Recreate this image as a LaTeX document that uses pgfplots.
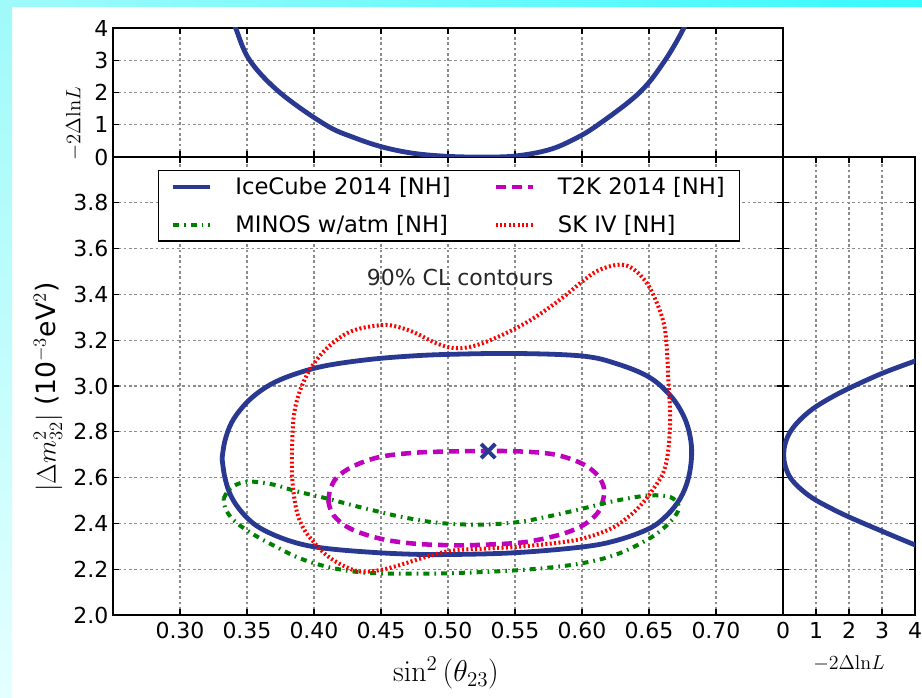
\RequirePackage{fix-cm}
\documentclass[border=0pt]{standalone}
\usepackage[no-math]{fontspec}
\setmainfont{DejaVu Sans}
\usepackage{pgfplots}
\pgfplotsset{compat=1.18}

\definecolor{icblue}{RGB}{41,56,145}
\definecolor{tmag}{RGB}{191,0,191}
\definecolor{mgreen}{RGB}{0,128,0}
\definecolor{skred}{RGB}{255,0,0}
\definecolor{cyA}{RGB}{160,250,250}
\definecolor{cyB}{RGB}{55,250,255}
\definecolor{cyC}{RGB}{228,255,255}

\pgfplotsset{
  myax/.style={
    scale only axis,
    axis line style={line width=1.6pt},
    tick pos=both, tick align=inside,
    major tick length=4.5pt,
    tick style={line width=0.9pt, black},
    grid=major,
    major grid style={gray!90, line width=0.8pt, dash pattern=on 2pt off 2pt},
    ticklabel style={font=\fontsize{16.5}{19}\selectfont},
    /pgf/number format/assume math mode=true,
  }
}

\begin{document}
\begin{tikzpicture}
% background frame
\fill[white] (0pt,0pt) rectangle (691.5pt,522.75pt);
\shade[left color=cyA, right color=cyB] (0pt,517.5pt) rectangle (691.5pt,522.75pt);
\shade[top color=cyA, bottom color=cyC] (0pt,0pt) rectangle (9pt,517.5pt);

% ---------------- main panel ----------------
\begin{axis}[myax,
  at={(84.75pt,61.5pt)}, anchor=south west,
  width=502.5pt, height=343.5pt,
  xmin=0.25, xmax=0.75, ymin=2.0, ymax=4.0,
  xtick={0.30,0.35,0.40,0.45,0.50,0.55,0.60,0.65,0.70},
  ytick={2.0,2.2,2.4,2.6,2.8,3.0,3.2,3.4,3.6,3.8},
  xticklabel style={/tikz/yshift=-2pt, /pgf/number format/fixed, /pgf/number format/fixed zerofill, /pgf/number format/precision=2},
  yticklabel style={/pgf/number format/fixed, /pgf/number format/fixed zerofill, /pgf/number format/precision=1},
  legend columns=2,
  legend cell align=left,
  legend image code/.code={\draw[#1] (0pt,0pt) -- (28pt,0pt); \path (43pt,0pt);},
  legend style={at={(0.067,0.9716)}, anchor=north west, draw=black, line width=1pt,
    font=\fontsize{17}{20}\selectfont, row sep=10pt, inner xsep=9pt, inner ysep=3pt,
    /tikz/every even column/.append style={column sep=30pt}},
]
% IceCube 2014
\addplot[icblue, line width=3.6pt, smooth, tension=0.6] coordinates {
(0.3314,2.683) (0.3335,2.76) (0.3385,2.84) (0.347,2.91) (0.358,2.97) (0.372,3.02)
(0.390,3.06) (0.410,3.09) (0.440,3.115) (0.470,3.130) (0.500,3.138) (0.550,3.142) (0.600,3.131)
(0.626,3.097) (0.650,3.039) (0.6658,2.959) (0.6756,2.872) (0.6805,2.785) (0.6818,2.697)
(0.6793,2.595) (0.6732,2.508) (0.6633,2.435) (0.650,2.377) (0.626,2.326) (0.600,2.297)
(0.550,2.272) (0.500,2.264) (0.470,2.266) (0.440,2.275) (0.410,2.29) (0.390,2.31) (0.372,2.345)
(0.357,2.39) (0.346,2.45) (0.338,2.52) (0.3335,2.60) (0.3314,2.683)
};
\addlegendentry{IceCube 2014 [NH]}
% T2K 2014
\addplot[tmag, line width=3.4pt, dash pattern=on 7.5pt off 4.5pt, smooth, tension=0.6] coordinates {
(0.4108,2.494) (0.412,2.545) (0.417,2.600) (0.4294,2.650) (0.449,2.690) (0.474,2.708)
(0.500,2.714) (0.530,2.716) (0.550,2.715) (0.5722,2.707) (0.587,2.690) (0.6017,2.656)
(0.6116,2.610) (0.6165,2.552) (0.6153,2.494) (0.6116,2.445) (0.6017,2.395) (0.587,2.357)
(0.567,2.328) (0.550,2.314) (0.518,2.305) (0.500,2.305) (0.474,2.312) (0.449,2.334)
(0.4269,2.378) (0.4145,2.436) (0.4108,2.494)
};
\addlegendentry{T2K 2014 [NH]}
% MINOS w/atm
\addplot[mgreen, line width=3pt, dash pattern=on 4.5pt off 3.8pt on 1.2pt off 3.8pt, smooth, tension=0.6] coordinates {
(0.3326,2.509) (0.337,2.55) (0.345,2.576) (0.355,2.582) (0.370,2.569) (0.3872,2.540)
(0.4095,2.509) (0.4269,2.482) (0.4442,2.457) (0.464,2.430) (0.4889,2.405) (0.5137,2.395)
(0.535,2.397) (0.555,2.408) (0.577,2.433) (0.600,2.464) (0.626,2.500) (0.650,2.522)
(0.6658,2.515) (0.672,2.479) (0.6707,2.443) (0.6633,2.392) (0.650,2.333) (0.626,2.265)
(0.600,2.226) (0.570,2.204) (0.535,2.190) (0.4889,2.181) (0.449,2.182) (0.4294,2.190)
(0.4095,2.211) (0.3897,2.247) (0.370,2.303) (0.3525,2.360) (0.340,2.414) (0.3339,2.465)
(0.3326,2.509)
};
\addlegendentry{MINOS w/atm [NH]}
% SK IV
\addplot[skred, line width=3pt, dash pattern=on 1.5pt off 1.8pt, smooth, tension=0.6] coordinates {
(0.3835,2.70) (0.3847,2.858) (0.3884,2.960) (0.3946,3.047) (0.4008,3.105) (0.4095,3.164)
(0.422,3.222) (0.4343,3.251) (0.449,3.265) (0.459,3.263) (0.474,3.236) (0.4889,3.193)
(0.5013,3.168) (0.5137,3.168) (0.5286,3.193) (0.550,3.25) (0.567,3.308) (0.5845,3.381)
(0.5998,3.454) (0.6116,3.503) (0.626,3.529) (0.636,3.519) (0.646,3.468) (0.6534,3.396)
(0.6608,3.279) (0.6633,3.163) (0.6645,3.017) (0.6658,2.872) (0.6645,2.726) (0.6608,2.624)
(0.6534,2.552) (0.646,2.494) (0.636,2.435) (0.6214,2.377) (0.5998,2.333) (0.577,2.312)
(0.550,2.297) (0.5278,2.290) (0.503,2.281) (0.4839,2.254) (0.464,2.218) (0.449,2.196)
(0.4343,2.190) (0.422,2.215) (0.4095,2.260) (0.3996,2.320) (0.3921,2.378) (0.3872,2.451)
(0.3847,2.538) (0.3835,2.620) (0.3835,2.70)
};
\addlegendentry{SK IV [NH]}
% best fit
\addplot[icblue, only marks, mark=x, mark size=7.5pt, line width=3pt, forget plot] coordinates {(0.530,2.716)};
\node[font=\fontsize{16.5}{19}\selectfont, text=black!85] at (axis cs:0.509,3.476) {90\% CL contours};
\end{axis}

% ---------------- top panel ----------------
\begin{axis}[myax,
  at={(84.75pt,405pt)}, anchor=south west,
  width=502.5pt, height=96.75pt,
  xmin=0.25, xmax=0.75, ymin=0, ymax=4,
  xtick={0.30,0.35,0.40,0.45,0.50,0.55,0.60,0.65,0.70},
  xticklabels={},
  ytick={0,1,2,3,4},
]
\addplot[icblue, line width=3.6pt, smooth, tension=0.6] coordinates {
(0.3375,4.4) (0.3415,4.0) (0.352,3.0) (0.3745,2.0) (0.4085,1.0) (0.430,0.60) (0.452,0.30)
(0.475,0.11) (0.500,0.02) (0.525,0.0) (0.550,0.03) (0.575,0.22) (0.594,0.55) (0.612,1.0)
(0.643,2.0) (0.662,3.0) (0.676,4.0) (0.679,4.4)
};
\end{axis}

% ---------------- right panel ----------------
\begin{axis}[myax,
  at={(587.25pt,61.5pt)}, anchor=south west,
  width=99pt, height=343.5pt,
  xmin=0, xmax=4, ymin=2.0, ymax=4.0,
  xtick={0,1,2,3,4},
  ytick={2.2,2.4,2.6,2.8,3.0,3.2,3.4,3.6,3.8},
  yticklabels={},
  xticklabel style={/tikz/yshift=-2pt},
]
\addplot[icblue, line width=3.6pt, smooth, tension=0.6] coordinates {
(4.3,3.125) (4.0,3.109) (3.0,3.055) (2.0,2.990) (1.4,2.945) (0.9,2.900) (0.5,2.850)
(0.22,2.800) (0.07,2.750) (0.02,2.700) (0.07,2.650) (0.22,2.600) (0.5,2.555) (0.9,2.510)
(1.4,2.470) (2.0,2.428) (3.0,2.366) (4.0,2.306) (4.3,2.290)
};
\end{axis}

% axis labels
\node[rotate=90, font=\fontsize{15.5}{18}\selectfont] at (55.5pt,430pt) {$-2\Delta\mathrm{ln}L$};
\node[rotate=90, font=\fontsize{20}{24}\selectfont] at (36pt,232.5pt) {$|\Delta m^2_{32}|$ (10$^{-3}$eV$^2$)};
\node[font=\fontsize{22.5}{26}\selectfont] at (334.5pt,18pt) {$\sin^2\,(\theta_{23})$};
\node[font=\fontsize{15}{18}\selectfont] at (636.75pt,25pt) {$-2\Delta\mathrm{ln}L$};

\pgfresetboundingbox
\path (0pt,0pt) rectangle (691.5pt,522.75pt);
\end{tikzpicture}
\end{document}
